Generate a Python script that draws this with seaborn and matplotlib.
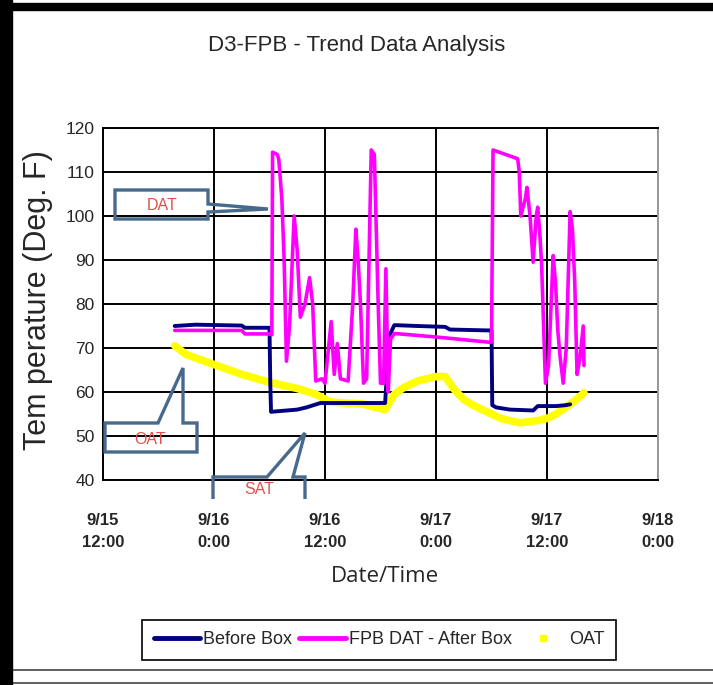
import pandas as pd
import matplotlib.pyplot as plt
import seaborn as sns
from matplotlib.lines import Line2D
from matplotlib.patches import Rectangle, Polygon

# --- data (time stamps, deg F) ---
before_time = [
    "2008-09-15 19:45", "2008-09-15 22:00", "2008-09-16 03:00", "2008-09-16 03:20",
    "2008-09-16 06:00", "2008-09-16 06:05", "2008-09-16 06:10", "2008-09-16 09:00",
    "2008-09-16 10:00", "2008-09-16 11:30", "2008-09-16 12:00", "2008-09-16 18:30",
    "2008-09-16 18:45", "2008-09-16 19:00", "2008-09-16 19:30", "2008-09-16 22:00",
    "2008-09-17 01:00", "2008-09-17 01:30", "2008-09-17 05:30", "2008-09-17 06:00",
    "2008-09-17 06:05", "2008-09-17 06:30", "2008-09-17 08:00", "2008-09-17 10:30",
    "2008-09-17 11:00", "2008-09-17 13:00", "2008-09-17 14:00", "2008-09-17 14:30",
]
before_temp = [
    75.0, 75.3, 75.1, 74.6,
    74.6, 62.0, 55.5, 56.0,
    56.5, 57.5, 57.5, 57.5,
    66.0, 73.0, 75.2, 75.0,
    74.8, 74.2, 74.0, 74.0,
    57.0, 56.5, 56.0, 55.8,
    56.8, 56.8, 57.0, 57.2,
]

dat_time = [
    "2008-09-15 19:45", "2008-09-16 03:00", "2008-09-16 03:20", "2008-09-16 06:00",
    "2008-09-16 06:15", "2008-09-16 06:20", "2008-09-16 06:50", "2008-09-16 07:00",
    "2008-09-16 07:20", "2008-09-16 07:35", "2008-09-16 07:50", "2008-09-16 08:10",
    "2008-09-16 08:40", "2008-09-16 09:00", "2008-09-16 09:20", "2008-09-16 09:50",
    "2008-09-16 10:20", "2008-09-16 10:40", "2008-09-16 11:00", "2008-09-16 11:40",
    "2008-09-16 12:00", "2008-09-16 12:40", "2008-09-16 13:00", "2008-09-16 13:20",
    "2008-09-16 13:40", "2008-09-16 14:30", "2008-09-16 15:00", "2008-09-16 15:20",
    "2008-09-16 15:35", "2008-09-16 15:50", "2008-09-16 16:10", "2008-09-16 16:30",
    "2008-09-16 17:00", "2008-09-16 17:20", "2008-09-16 17:45", "2008-09-16 18:00",
    "2008-09-16 18:20", "2008-09-16 18:35", "2008-09-16 18:50", "2008-09-16 19:05",
    "2008-09-16 19:30", "2008-09-17 00:00", "2008-09-17 01:00", "2008-09-17 05:50",
    "2008-09-17 06:00", "2008-09-17 06:10", "2008-09-17 07:30", "2008-09-17 08:50",
    "2008-09-17 09:00", "2008-09-17 09:10", "2008-09-17 09:40", "2008-09-17 09:50",
    "2008-09-17 10:10", "2008-09-17 10:30", "2008-09-17 10:50", "2008-09-17 11:00",
    "2008-09-17 11:15", "2008-09-17 11:25", "2008-09-17 11:50", "2008-09-17 12:10",
    "2008-09-17 12:40", "2008-09-17 12:55", "2008-09-17 13:10", "2008-09-17 13:25",
    "2008-09-17 13:45", "2008-09-17 14:05", "2008-09-17 14:30", "2008-09-17 14:45",
    "2008-09-17 15:00", "2008-09-17 15:15", "2008-09-17 15:35", "2008-09-17 15:55",
    "2008-09-17 16:00",
]
dat_temp = [
    74.0, 74.0, 73.2, 73.2,
    73.0, 114.5, 114.0, 113.0,
    104.0, 90.0, 67.0, 75.0,
    100.0, 92.0, 77.0, 80.0,
    86.0, 80.0, 62.5, 63.0,
    62.0, 76.0, 64.0, 71.0,
    63.0, 62.5, 80.0, 97.0,
    90.0, 80.0, 62.0, 63.0,
    115.0, 114.0, 80.0, 62.0,
    62.0, 88.0, 60.0, 72.0,
    73.3, 72.5, 72.3, 71.3,
    71.3, 115.0, 114.0, 113.0,
    110.0, 100.0, 104.0, 106.5,
    100.0, 89.5, 100.0, 102.0,
    95.0, 89.0, 62.0, 66.0,
    91.0, 85.0, 74.0, 68.0,
    62.0, 70.0, 101.0, 97.0,
    85.0, 64.0, 68.0, 75.0,
    66.0,
]

oat_time = [
    "2008-09-15 19:45", "2008-09-15 21:00", "2008-09-15 23:00", "2008-09-16 01:00",
    "2008-09-16 03:00", "2008-09-16 05:00", "2008-09-16 07:00", "2008-09-16 09:00",
    "2008-09-16 11:00", "2008-09-16 12:30", "2008-09-16 14:00", "2008-09-16 16:00",
    "2008-09-16 17:30", "2008-09-16 18:30", "2008-09-16 19:30", "2008-09-16 20:30",
    "2008-09-16 22:00", "2008-09-17 00:00", "2008-09-17 01:00", "2008-09-17 02:00",
    "2008-09-17 03:00", "2008-09-17 04:00", "2008-09-17 05:30", "2008-09-17 07:00",
    "2008-09-17 09:00", "2008-09-17 11:00", "2008-09-17 12:00", "2008-09-17 13:00",
    "2008-09-17 14:00", "2008-09-17 15:00", "2008-09-17 16:00",
]
oat_temp = [
    70.5, 68.5, 67.0, 65.5,
    64.0, 62.8, 61.7, 60.8,
    59.5, 57.8, 57.5, 57.3,
    56.5, 56.0, 59.5, 61.0,
    62.5, 63.5, 63.5, 60.5,
    58.3, 57.0, 55.5, 54.0,
    53.0, 53.5, 54.0, 55.0,
    56.5, 58.0, 59.8,
]

tick_times = ["2008-09-15 12:00", "2008-09-16 00:00", "2008-09-16 12:00",
              "2008-09-17 00:00", "2008-09-17 12:00", "2008-09-18 00:00"]
tick_labels = ["9/15\n12:00", "9/16\n0:00", "9/16\n12:00",
               "9/17\n0:00", "9/17\n12:00", "9/18\n0:00"]
y_ticks = [40, 50, 60, 70, 80, 90, 100, 110, 120]

series_names = ["Before Box", "FPB DAT - After Box", "OAT"]
series_colors = ["#000080", "#FF00FF", "#FFFF00"]

sns.set_style("white")
plt.rcParams["font.family"] = ["Liberation Sans", "DejaVu Sans"]

W, H = 713, 685
fig = plt.figure(figsize=(W / 100, H / 100), dpi=100)
ax = fig.add_axes([103 / W, 1 - 480 / H, 555 / W, 352 / H])


def px(x, y):
    # pixel position on the page -> figure fraction
    return (x / W, 1 - y / H)


before = pd.DataFrame({"time": pd.to_datetime(before_time), "temp": before_temp})
dat = pd.DataFrame({"time": pd.to_datetime(dat_time), "temp": dat_temp})
oat = pd.DataFrame({"time": pd.to_datetime(oat_time), "temp": oat_temp})

sns.lineplot(data=oat, x="time", y="temp", color=series_colors[2], lw=5.5,
             ax=ax, legend=False, zorder=3)
sns.lineplot(data=before, x="time", y="temp", color=series_colors[0], lw=2.8,
             ax=ax, legend=False, zorder=4)
sns.lineplot(data=dat, x="time", y="temp", color=series_colors[1], lw=2.6,
             ax=ax, legend=False, zorder=5)

ticks = pd.to_datetime(tick_times)
ax.set_xlim(ticks[0], ticks[-1])
ax.set_ylim(40, 120)
ax.set_yticks(y_ticks)
ax.set_xticks(ticks)
ax.set_xticklabels(tick_labels, fontsize=12, fontweight="bold", linespacing=1.55)
ax.tick_params(axis="x", direction="inout", length=8, width=1.2, pad=20)
ax.tick_params(axis="y", direction="inout", length=8, width=1.2, pad=2, labelsize=12.5)

ax.grid(True, color="black", lw=1.4)
ax.set_axisbelow(True)
for s in ["left", "bottom", "top"]:
    ax.spines[s].set_color("black")
    ax.spines[s].set_linewidth(1.4)
ax.spines["right"].set_color("#9a9a9a")
ax.spines["right"].set_linewidth(1.4)

ax.set_xlabel("Date/Time", fontsize=16, family=["Open Sans", "DejaVu Sans"])
ax.xaxis.set_label_coords(0.508, -0.245)
ax.set_ylabel("Tem perature (Deg. F)", fontsize=22)
ax.yaxis.set_label_coords(-0.09, 0.51)

fig.text(357 / W, 1 - 46 / H, "D3-FPB - Trend Data Analysis", fontsize=16,
         ha="center", va="center")

# callout boxes
edge = "#47698C"
callouts = [
    ([(115, 190), (208, 190), (208, 204), (268, 209), (208, 212), (208, 219), (115, 219)],
     "DAT", (162, 206), True),
    ([(105, 423), (158, 423), (183, 368), (183, 423), (197, 423), (197, 452), (105, 452)],
     "OAT", (150, 439), True),
    ([(213, 499), (213, 477), (267, 477), (305, 433), (293, 477), (305, 477), (305, 499)],
     "SAT", (259, 490), False),
]
for pts, label, (tx, ty), closed in callouts:
    poly = Polygon([px(x, y) for x, y in pts], closed=closed, transform=fig.transFigure,
                   facecolor="none", edgecolor=edge, lw=2.4, zorder=6)
    fig.add_artist(poly)
    fig.text(*px(tx, ty), label, color="#E0504A", fontsize=11.5, ha="center", va="center",
             zorder=7)

handles = [
    Line2D([], [], color=series_colors[0], lw=3.5),
    Line2D([], [], color=series_colors[1], lw=3.5),
    Line2D([], [], color="none", marker="s", markersize=5,
           markerfacecolor=series_colors[2], markeredgecolor=series_colors[2]),
]
leg = fig.legend(handles, series_names, loc="center", bbox_to_anchor=px(379, 640),
                 ncol=3, fontsize=13, frameon=True, fancybox=False, framealpha=1,
                 edgecolor="black", handlelength=2.6, handletextpad=0.15,
                 columnspacing=0.4, borderpad=0.65)
leg.get_frame().set_linewidth(1.2)

# page frame
fig.add_artist(Rectangle((0, 0), 12 / W, 1, transform=fig.transFigure,
                         color="black", zorder=10))
fig.add_artist(Rectangle((0, 1 - 10 / H), 1, 7 / H, transform=fig.transFigure,
                         color="black", zorder=10))
for yy in (670, 683):
    fig.add_artist(Line2D([12 / W, 1], [1 - yy / H, 1 - yy / H], transform=fig.transFigure,
                          color="#444444", lw=1.2))

fig.savefig("out.png", dpi=100)
